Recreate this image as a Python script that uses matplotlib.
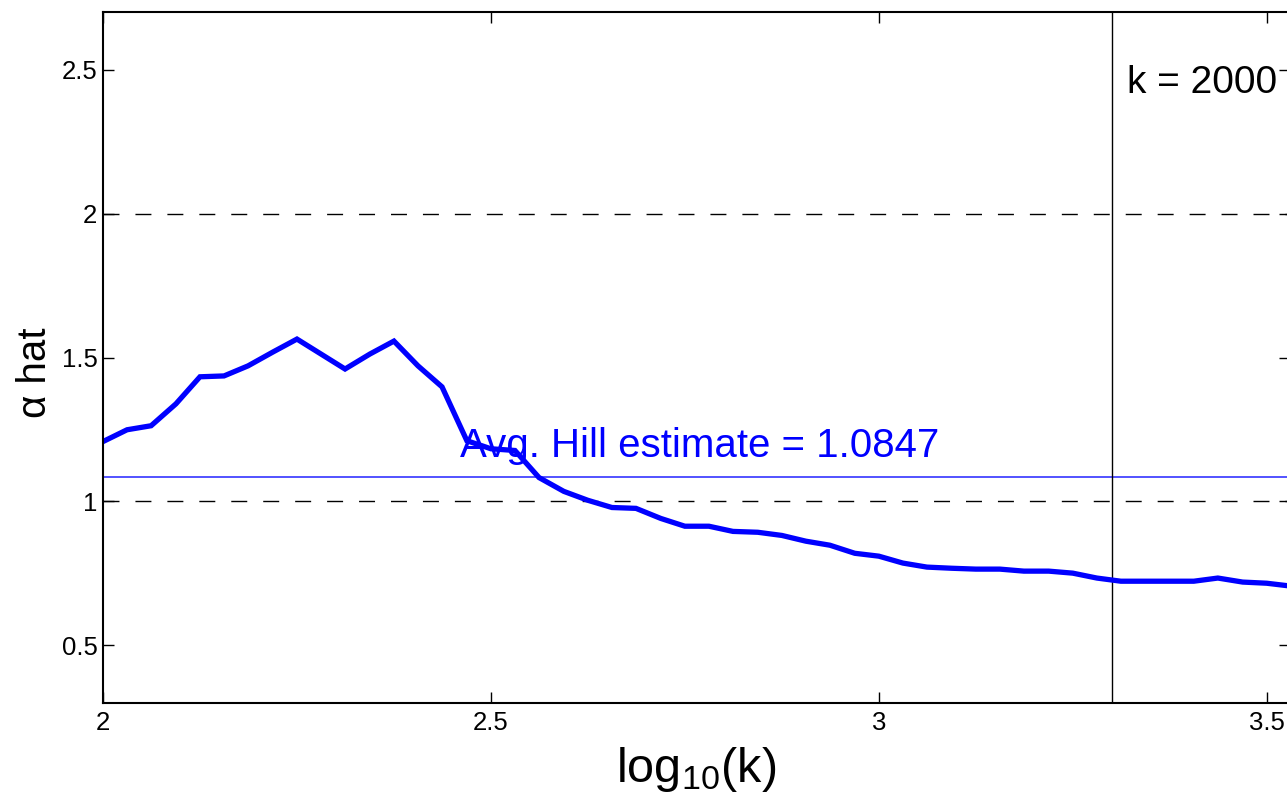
import numpy as np
import matplotlib
matplotlib.use('Agg')
import matplotlib.pyplot as plt

plt.rcParams['font.family'] = ['Liberation Sans', 'DejaVu Sans']
plt.rcParams['mathtext.fontset'] = 'custom'
plt.rcParams['mathtext.rm'] = 'Liberation Sans'
plt.rcParams['mathtext.it'] = 'Liberation Sans:italic'

# log10(k) and Hill estimates
logk = [2.000, 2.031, 2.062, 2.094, 2.125, 2.156, 2.187, 2.219, 2.250, 2.281,
        2.312, 2.344, 2.375, 2.406, 2.437, 2.469, 2.500, 2.531, 2.562, 2.594,
        2.625, 2.656, 2.687, 2.719, 2.750, 2.781, 2.812, 2.844, 2.875, 2.906,
        2.937, 2.969, 3.000, 3.031, 3.062, 3.094, 3.125, 3.156, 3.187, 3.219,
        3.250, 3.281, 3.312, 3.344, 3.375, 3.406, 3.437, 3.469, 3.500, 3.531]
alpha_hat = [1.208, 1.249, 1.263, 1.339, 1.433, 1.436, 1.471, 1.519, 1.564, 1.512,
             1.460, 1.512, 1.557, 1.471, 1.398, 1.211, 1.183, 1.177, 1.083, 1.035,
             1.004, 0.979, 0.976, 0.941, 0.914, 0.914, 0.896, 0.893, 0.882, 0.862,
             0.848, 0.820, 0.810, 0.786, 0.772, 0.768, 0.765, 0.765, 0.758, 0.758,
             0.751, 0.734, 0.723, 0.723, 0.723, 0.723, 0.734, 0.720, 0.716, 0.706]
avg_hill = 1.0847
k_sel = 2000
ref_levels = [1, 2]

fig = plt.figure(figsize=(12.87, 8.10), dpi=100)
ax = fig.add_axes([103/1287, 107/810, 1187/1287, 691/810])

for lev in ref_levels:
    ax.axhline(lev, color='k', lw=1.0, dashes=(11.5, 11.5))
ax.axhline(avg_hill, color='#3535ff', lw=1.2)
ax.axvline(np.log10(k_sel), color='k', lw=1.0)
ax.plot(logk, alpha_hat, color='#0000ff', lw=3.8, solid_joinstyle='miter')

ax.text(2.46, 1.156, 'Avg. Hill estimate = %.4f' % avg_hill, color='#0000ff', fontsize=29)
ax.text(np.log10(k_sel) + 0.019, 2.418, 'k = %d' % k_sel, color='k', fontsize=28)

ax.set_xlim(2, 3.53)
ax.set_ylim(0.3, 2.7)
ax.set_xticks([2, 2.5, 3, 3.5])
ax.set_xticklabels(['2', '2.5', '3', '3.5'])
ax.set_yticks([0.5, 1, 1.5, 2, 2.5])
ax.set_yticklabels(['0.5', '1', '1.5', '2', '2.5'])
ax.tick_params(direction='in', length=8, width=1, labelsize=18.5,
               top=True, right=True)
ax.tick_params(axis='x', pad=6)
ax.tick_params(axis='y', pad=4)
for s in ax.spines.values():
    s.set_linewidth(1.5)

ax.set_xlabel(r'log$_{\mathrm{10}}$(k)', fontsize=35)
ax.xaxis.set_label_coords((696-103)/1187, -(745-703)/691)
ax.set_ylabel('α hat', fontsize=29)
ax.yaxis.set_label_coords((54-103)/1187, (703-373)/691)

fig.savefig('out.png', dpi=100)
